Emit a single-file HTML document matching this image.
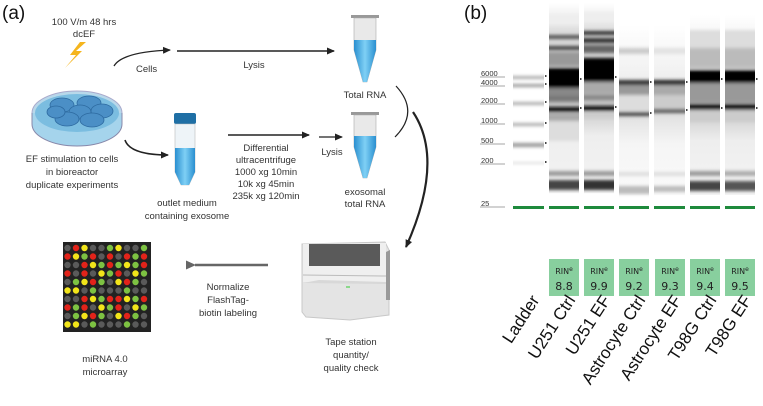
<!DOCTYPE html>
<html><head><meta charset="utf-8"><style>
body{margin:0;background:#fff}
svg{display:block;font-family:"Liberation Sans",sans-serif}
</style></head><body>
<svg width="763" height="406" viewBox="0 0 763 406" xmlns="http://www.w3.org/2000/svg">
<defs>
<marker id="ah" markerWidth="8" markerHeight="8" refX="7" refY="4" orient="auto" markerUnits="userSpaceOnUse"><path d="M0,0.5 L8,4 L0,7.5 z" fill="#222"/></marker>
<marker id="ahg" markerWidth="10" markerHeight="10" refX="1" refY="5" orient="auto" markerUnits="userSpaceOnUse"><path d="M10,0.5 L0,5 L10,9.5 z" fill="#666"/></marker>
<linearGradient id="tube" x1="0" x2="1"><stop offset="0" stop-color="#2a8fd0"/><stop offset="0.5" stop-color="#7fd0f5"/><stop offset="1" stop-color="#2a8fd0"/></linearGradient>
<linearGradient id="bgU" x1="0" y1="0" x2="0" y2="1"><stop offset="0" stop-color="#fff"/><stop offset="0.15" stop-color="#ddd"/><stop offset="0.5" stop-color="#bbb"/><stop offset="0.7" stop-color="#eee"/><stop offset="1" stop-color="#f4f4f4"/></linearGradient>
<linearGradient id="bgA" x1="0" y1="0" x2="0" y2="1"><stop offset="0" stop-color="#fff"/><stop offset="0.3" stop-color="#f0f0f0"/><stop offset="0.5" stop-color="#ddd"/><stop offset="0.7" stop-color="#f5f5f5"/><stop offset="1" stop-color="#fafafa"/></linearGradient>
<linearGradient id="bgT" x1="0" y1="0" x2="0" y2="1"><stop offset="0" stop-color="#fff"/><stop offset="0.2" stop-color="#eee"/><stop offset="0.45" stop-color="#bbb"/><stop offset="0.7" stop-color="#eee"/><stop offset="1" stop-color="#f4f4f4"/></linearGradient>
<filter id="bl" x="-5%" y="-50%" width="110%" height="200%"><feGaussianBlur stdDeviation="0 1.6"/></filter>
</defs>

<!-- (a) -->
<text x="2" y="19" font-size="19" fill="#111">(a)</text>
<text x="84" y="25" font-size="9.5" text-anchor="middle" fill="#333">100 V/m 48 hrs</text>
<text x="84" y="37" font-size="9.5" text-anchor="middle" fill="#333">dcEF</text>
<path d="M80,42 L70,55 L76,55 L65,68 L82,51 L76,51 L86,42 z" fill="#f5b51d"/>

<!-- dish -->
<ellipse cx="77" cy="113" rx="45" ry="22" fill="#b8d8ea" stroke="#aac" stroke-width="1"/>
<path d="M32,113 L32,124 A45,22 0 0 0 122,124 L122,113" fill="#a5d4ec" stroke="#88a" stroke-width="1"/>
<ellipse cx="77" cy="113" rx="42" ry="19" fill="#7bbde0"/>
<g fill="#4b8fc6" stroke="#2d6aa0" stroke-width="0.8">
<ellipse cx="62" cy="105" rx="12" ry="7"/><ellipse cx="89" cy="103" rx="12" ry="7"/><ellipse cx="80" cy="112" rx="11" ry="7"/><ellipse cx="102" cy="111" rx="11" ry="7"/><ellipse cx="67" cy="119" rx="12" ry="7"/><ellipse cx="92" cy="120" rx="12" ry="7"/><ellipse cx="56" cy="112" rx="9" ry="6"/>
</g>
<text x="72" y="162" font-size="9.5" text-anchor="middle" fill="#333">EF stimulation to cells</text>
<text x="72" y="175" font-size="9.5" text-anchor="middle" fill="#333">in bioreactor</text>
<text x="72" y="188" font-size="9.5" text-anchor="middle" fill="#333">duplicate experiments</text>

<path d="M114,66 Q122,52 170,50" stroke="#222" stroke-width="1.3" fill="none" marker-end="url(#ah)"/>
<text x="136" y="72" font-size="9.5" fill="#333">Cells</text>
<line x1="177" y1="51" x2="334" y2="51" stroke="#222" stroke-width="1.6" marker-end="url(#ah)"/>
<text x="254" y="68" font-size="9.5" text-anchor="middle" fill="#333">Lysis</text>
<path d="M125,140 Q130,155 168,155" stroke="#222" stroke-width="1.6" fill="none" marker-end="url(#ah)"/>

<rect x="174" y="113" width="22" height="11" rx="2" fill="#1f6fa5"/>
<path d="M175,124 L195,124 L195,172 L189,185 L181,185 L175,172 z" fill="#eef4f8" stroke="#bbb" stroke-width="0.6"/>
<path d="M175,148 L195,148 L195,172 L189,185 L181,185 L175,172 z" fill="url(#tube)"/>
<text x="187" y="206" font-size="9.5" text-anchor="middle" fill="#333">outlet medium</text>
<text x="187" y="219" font-size="9.5" text-anchor="middle" fill="#333">containing exosome</text>

<line x1="228" y1="135" x2="309" y2="135" stroke="#222" stroke-width="1.6" marker-end="url(#ah)"/>
<g font-size="9.5" text-anchor="middle" fill="#333">
<text x="266" y="151">Differential</text><text x="266" y="163">ultracentrifuge</text><text x="266" y="175">1000 xg 10min</text><text x="266" y="187">10k xg 45min</text><text x="266" y="199">235k xg 120min</text></g>
<line x1="319" y1="137" x2="342" y2="137" stroke="#222" stroke-width="1.3" marker-end="url(#ah)"/>
<text x="332" y="155" font-size="9.5" text-anchor="middle" fill="#333">Lysis</text>

<g>
<rect x="351" y="15" width="28" height="3" fill="#999"/>
<path d="M354,18 L376,18 L376,50 L367,82 L363,82 L354,50 z" fill="#e9e9e9" stroke="#aaa" stroke-width="0.6"/>
<path d="M354,40 L376,40 L376,50 L367,82 L363,82 L354,50 z" fill="url(#tube)"/>
<text x="365" y="98" font-size="9.5" text-anchor="middle" fill="#333">Total RNA</text>
</g>
<g>
<rect x="351" y="112" width="28" height="3" fill="#999"/>
<path d="M354,115 L376,115 L376,147 L367,178 L363,178 L354,147 z" fill="#e9e9e9" stroke="#aaa" stroke-width="0.6"/>
<path d="M354,136 L376,136 L376,147 L367,178 L363,178 L354,147 z" fill="url(#tube)"/>
<text x="365" y="195" font-size="9.5" text-anchor="middle" fill="#333">exosomal</text>
<text x="365" y="207" font-size="9.5" text-anchor="middle" fill="#333">total RNA</text>
</g>
<path d="M396,86 Q420,112 395,137" stroke="#222" stroke-width="1.2" fill="none"/>
<path d="M413,112 Q445,160 406,247" stroke="#222" stroke-width="2.2" fill="none" marker-end="url(#ah)"/>

<!-- tape station -->
<path d="M302,244 L385,242 L389,250 L389,315 L350,320 L306,317 L302,312 z" fill="#e4e4e4" stroke="#c8c8c8"/>
<path d="M303,244 L386,243 L386,283 L303,282 z" fill="#efefef"/>
<rect x="309" y="244" width="71" height="22" fill="#5a5a5a"/>
<path d="M303,275 L386,276" stroke="#bbb"/>
<path d="M319,280 L386,282 L386,284 L303,283 z" fill="#d8d8d8"/>
<path d="M386,252 L390,250 L390,300 L386,300z" fill="#999"/>
<line x1="346" y1="287" x2="350" y2="287" stroke="#3c3" stroke-width="1"/>
<g font-size="9.5" text-anchor="middle" fill="#333"><text x="351" y="345">Tape station</text><text x="351" y="358">quantity/</text><text x="351" y="371">quality check</text></g>

<line x1="268" y1="265" x2="195" y2="265" stroke="#666" stroke-width="2.5" marker-end="url(#ahg)"/>
<g font-size="9.5" text-anchor="middle" fill="#333"><text x="228" y="290">Normalize</text><text x="228" y="303">FlashTag-</text><text x="228" y="316">biotin labeling</text></g>

<rect x="63" y="242" width="88" height="90" fill="#222"/>
<g id="dots"></g>
<g font-size="9.5" text-anchor="middle" fill="#333"><text x="105" y="362">miRNA 4.0</text><text x="105" y="375">microarray</text></g>

<!-- (b) -->
<text x="464" y="19" font-size="19" fill="#111">(b)</text>
<g font-size="7.5" fill="#333">
<text x="481" y="76">6000</text><text x="481" y="85">4000</text><text x="481" y="103">2000</text><text x="481" y="123">1000</text><text x="481" y="143">500</text><text x="481" y="163">200</text><text x="481" y="206">25</text></g>
<g stroke="#888" stroke-width="0.7"><line x1="480" y1="77" x2="505" y2="77"/><line x1="480" y1="86" x2="505" y2="86"/><line x1="480" y1="104" x2="505" y2="104"/><line x1="480" y1="124" x2="505" y2="124"/><line x1="480" y1="144" x2="505" y2="144"/><line x1="480" y1="164" x2="505" y2="164"/><line x1="480" y1="207" x2="505" y2="207"/></g>
<rect x="549" y="3" width="30" height="190" fill="url(#bgU)"/>
<rect x="584" y="3" width="30" height="190" fill="url(#bgU)"/>
<rect x="619" y="25" width="30" height="170" fill="url(#bgA)"/>
<rect x="654" y="25" width="31" height="170" fill="url(#bgA)"/>
<rect x="690" y="15" width="30" height="180" fill="url(#bgT)"/>
<rect x="725" y="15" width="30" height="180" fill="url(#bgT)"/>
<g id="bands" filter="url(#bl)"></g>
<g id="ticks" fill="#444"></g>
<g fill="#1e8a3c"><rect x="513" y="206" width="31" height="3"/><rect x="549" y="206" width="30" height="3"/><rect x="584" y="206" width="30" height="3"/><rect x="619" y="206" width="30" height="3"/><rect x="654" y="206" width="31" height="3"/><rect x="690" y="206" width="30" height="3"/><rect x="725" y="206" width="30" height="3"/></g>

<g font-family="'DejaVu Sans',sans-serif" text-anchor="middle" fill="#222">
<g fill="#88cf9e"><rect x="549" y="259" width="30" height="37"/><rect x="584" y="259" width="30" height="37"/><rect x="619" y="259" width="30" height="37"/><rect x="655" y="259" width="30" height="37"/><rect x="690" y="259" width="30" height="37"/><rect x="725" y="259" width="30" height="37"/></g>
<text x="564" y="274" font-size="8">RIN<tspan font-size="6" dy="-3">e</tspan></text><text x="564" y="290" font-size="11">8.8</text>
<text x="599" y="274" font-size="8">RIN<tspan font-size="6" dy="-3">e</tspan></text><text x="599" y="290" font-size="11">9.9</text>
<text x="634" y="274" font-size="8">RIN<tspan font-size="6" dy="-3">e</tspan></text><text x="634" y="290" font-size="11">9.2</text>
<text x="670" y="274" font-size="8">RIN<tspan font-size="6" dy="-3">e</tspan></text><text x="670" y="290" font-size="11">9.3</text>
<text x="705" y="274" font-size="8">RIN<tspan font-size="6" dy="-3">e</tspan></text><text x="705" y="290" font-size="11">9.4</text>
<text x="740" y="274" font-size="8">RIN<tspan font-size="6" dy="-3">e</tspan></text><text x="740" y="290" font-size="11">9.5</text>
</g>
<g font-size="17" fill="#111" text-anchor="end">
<text transform="translate(540,300) rotate(-57)">Ladder</text>
<text transform="translate(576,300) rotate(-57)">U251 Ctrl</text>
<text transform="translate(611,300) rotate(-57)">U251 EF</text>
<text transform="translate(646,300) rotate(-57)">Astrocyte Ctrl</text>
<text transform="translate(682,300) rotate(-57)">Astrocyte EF</text>
<text transform="translate(717,300) rotate(-57)">T98G Ctrl</text>
<text transform="translate(752,300) rotate(-57)">T98G EF</text>
</g>
</svg>
<script>
var rows=["GRYGGgYGGg","RYgRGrGRgR","GGRYgRgYgR","RGRGYgRGYg","GgYRgGYRgG","YYGgGGGgGG","GGRYgRRYgR","RgRGYgRGYg","GgYRgGYRgG","YYGgGGGgGG"];
var col={G:"#5a5a5a",g:"#7dc242",R:"#e2231a",r:"#e2231a",Y:"#f2e51a"};
var s="";
for(var i=0;i<10;i++)for(var j=0;j<10;j++){s+='<circle cx="'+(67.5+j*8.5)+'" cy="'+(248+i*8.5)+'" r="3.2" fill="'+col[rows[i][j]]+'"/>';}
document.getElementById("dots").innerHTML=s;
// lanes: x, w, bands [y, h, color]
var L=[
[513,31,[[76,3,"#aaa"],[84,3,"#999"],[102,3,"#aaa"],[123,3,"#aaa"],[143,4,"#999"],[162,2,"#ddd"]],[76,84,102,123,143,162]],
[549,30,[[15,10,"#eee"],[35,4,"#555"],[46,4,"#444"],[52,14,"#999"],[68,20,"#000"],[88,14,"#888"],[96,5,"#777"],[107,5,"#111"],[113,8,"#aaa"],[121,20,"#ddd"],[171,5,"#999"],[180,10,"#444"]],[79,108]],
[584,30,[[12,10,"#eee"],[31,4,"#333"],[38,5,"#333"],[45,8,"#666"],[58,24,"#000"],[82,12,"#aaa"],[95,5,"#888"],[106,5,"#111"],[112,6,"#ccc"],[171,5,"#999"],[180,10,"#333"]],[77,107]],
[619,30,[[48,6,"#ccc"],[80,5,"#333"],[85,10,"#999"],[95,16,"#ddd"],[112,4,"#444"],[172,4,"#ddd"],[186,8,"#bbb"]],[82,113]],
[654,31,[[48,6,"#e2e2e2"],[80,5,"#222"],[85,10,"#aaa"],[95,15,"#ccc"],[109,4,"#555"],[172,4,"#ddd"],[186,6,"#bbb"]],[82,110]],
[690,30,[[30,18,"#ddd"],[48,20,"#bbb"],[70,13,"#000"],[83,20,"#999"],[104,6,"#111"],[110,12,"#ccc"],[171,5,"#999"],[181,10,"#444"]],[79,108]],
[725,30,[[30,18,"#ddd"],[48,20,"#bbb"],[70,13,"#000"],[83,20,"#999"],[104,6,"#111"],[110,12,"#ccc"],[171,5,"#aaa"],[181,10,"#555"]],[79,108]]
];
var b="",t="";
L.forEach(function(l){l[2].forEach(function(d){b+='<rect x="'+l[0]+'" y="'+d[0]+'" width="'+l[1]+'" height="'+d[1]+'" fill="'+d[2]+'"/>';});
l[3].forEach(function(y){t+='<rect x="'+(l[0]+l[1]+1)+'" y="'+(y-1)+'" width="1.5" height="2"/>';});});
document.getElementById("bands").innerHTML=b;
document.getElementById("ticks").innerHTML=t;
</script>
</body></html>
